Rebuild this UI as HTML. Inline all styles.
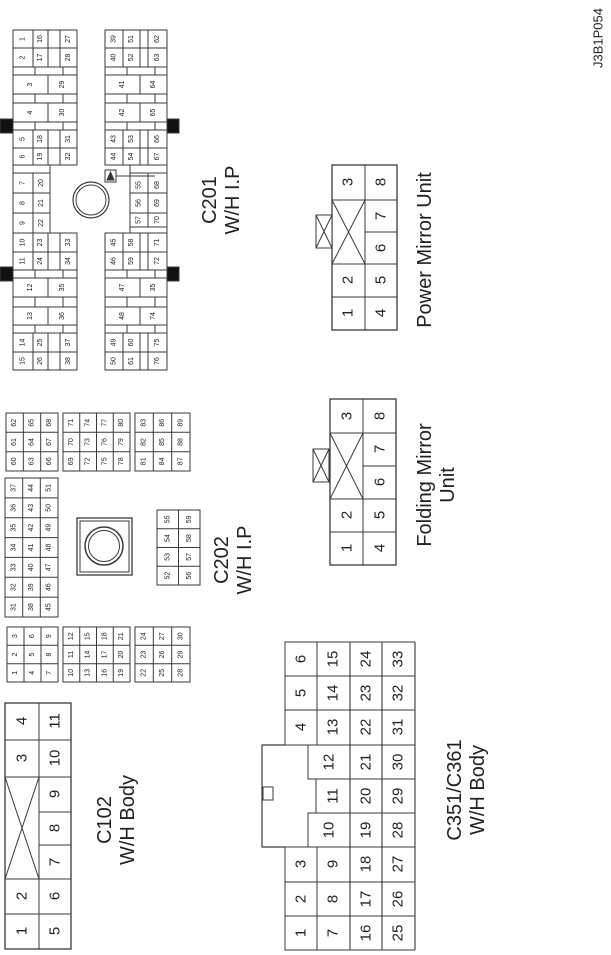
<!DOCTYPE html>
<html><head><meta charset="utf-8"><style>
html,body{margin:0;padding:0;background:#fff;}
svg{display:block;}
rect{fill:#fff;stroke:#3a3a3a;stroke-width:1;}
path,line{stroke:#3a3a3a;stroke-width:1;fill:none;}
text{font-family:"Liberation Sans",Arial,sans-serif;text-anchor:middle;dominant-baseline:central;fill:#222;}
.s text{font-size:7px;}
.m text{font-size:15px;}
.l{font-size:20px;}
</style></head><body>
<svg width="611" height="955" viewBox="0 0 611 955" xmlns="http://www.w3.org/2000/svg">

<!-- ID -->
<text class="l" style="font-size:13px" transform="translate(598,38)rotate(-90)">J3B1P054</text>

<!-- ===== C201 ===== -->
<g class="s">
<rect x="0" y="119" width="13" height="14" style="fill:#111"/>
<rect x="167" y="119" width="12" height="14" style="fill:#111"/>
<rect x="0" y="267" width="13" height="14" style="fill:#111"/>
<rect x="167" y="267" width="12" height="14" style="fill:#111"/>
<!-- left top -->
<rect x="13" y="30" width="20" height="18"/><rect x="33" y="30" width="15" height="18"/><rect x="48" y="30" width="12" height="18"/><rect x="60" y="30" width="17" height="18"/>
<rect x="13" y="48" width="20" height="19"/><rect x="33" y="48" width="15" height="19"/><rect x="48" y="48" width="12" height="19"/><rect x="60" y="48" width="17" height="19"/>
<rect x="13" y="67" width="22" height="8"/><rect x="35" y="67" width="28" height="8"/><rect x="63" y="67" width="14" height="8"/>
<rect x="13" y="75" width="35" height="19"/><rect x="48" y="75" width="29" height="19"/>
<rect x="13" y="94" width="22" height="9"/><rect x="35" y="94" width="28" height="9"/><rect x="63" y="94" width="14" height="9"/>
<rect x="13" y="103" width="35" height="19"/><rect x="48" y="103" width="29" height="19"/>
<rect x="13" y="122" width="22" height="8"/><rect x="35" y="122" width="28" height="8"/><rect x="63" y="122" width="14" height="8"/>
<rect x="13" y="130" width="20" height="18"/><rect x="33" y="130" width="15" height="18"/><rect x="48" y="130" width="12" height="18"/><rect x="60" y="130" width="17" height="18"/>
<rect x="13" y="148" width="20" height="17"/><rect x="33" y="148" width="15" height="17"/><rect x="48" y="148" width="12" height="17"/><rect x="60" y="148" width="17" height="17"/>
<!-- left middle -->
<rect x="13" y="165" width="37" height="8"/>
<rect x="13" y="173" width="20" height="20"/><rect x="33" y="173" width="17" height="20"/>
<rect x="13" y="193" width="20" height="20"/><rect x="33" y="193" width="17" height="20"/>
<rect x="13" y="213" width="20" height="20"/><rect x="33" y="213" width="17" height="20"/>
<!-- left bottom -->
<rect x="13" y="233" width="20" height="19"/><rect x="33" y="233" width="15" height="19"/><rect x="48" y="233" width="12" height="19"/><rect x="60" y="233" width="17" height="19"/>
<rect x="13" y="252" width="20" height="18"/><rect x="33" y="252" width="15" height="18"/><rect x="48" y="252" width="12" height="18"/><rect x="60" y="252" width="17" height="18"/>
<rect x="13" y="270" width="22" height="8"/><rect x="35" y="270" width="28" height="8"/><rect x="63" y="270" width="14" height="8"/>
<rect x="13" y="278" width="35" height="19"/><rect x="48" y="278" width="29" height="19"/>
<rect x="13" y="297" width="22" height="10"/><rect x="35" y="297" width="28" height="10"/><rect x="63" y="297" width="14" height="10"/>
<rect x="13" y="307" width="35" height="18"/><rect x="48" y="307" width="29" height="18"/>
<rect x="13" y="325" width="22" height="8"/><rect x="35" y="325" width="28" height="8"/><rect x="63" y="325" width="14" height="8"/>
<rect x="13" y="333" width="20" height="19"/><rect x="33" y="333" width="15" height="19"/><rect x="48" y="333" width="12" height="19"/><rect x="60" y="333" width="17" height="19"/>
<rect x="13" y="352" width="20" height="18"/><rect x="33" y="352" width="15" height="18"/><rect x="48" y="352" width="12" height="18"/><rect x="60" y="352" width="17" height="18"/>
<!-- right top -->
<rect x="105" y="30" width="18" height="18"/><rect x="123" y="30" width="17" height="18"/><rect x="140" y="30" width="8" height="18"/><rect x="148" y="30" width="19" height="18"/>
<rect x="105" y="48" width="18" height="19"/><rect x="123" y="48" width="17" height="19"/><rect x="140" y="48" width="8" height="19"/><rect x="148" y="48" width="19" height="19"/>
<rect x="105" y="67" width="22" height="8"/><rect x="127" y="67" width="28" height="8"/><rect x="155" y="67" width="12" height="8"/>
<rect x="105" y="75" width="35" height="19"/><rect x="140" y="75" width="27" height="19"/>
<rect x="105" y="94" width="22" height="9"/><rect x="127" y="94" width="28" height="9"/><rect x="155" y="94" width="12" height="9"/>
<rect x="105" y="103" width="35" height="19"/><rect x="140" y="103" width="27" height="19"/>
<rect x="105" y="122" width="22" height="8"/><rect x="127" y="122" width="28" height="8"/><rect x="155" y="122" width="12" height="8"/>
<rect x="105" y="130" width="18" height="18"/><rect x="123" y="130" width="17" height="18"/><rect x="140" y="130" width="8" height="18"/><rect x="148" y="130" width="19" height="18"/>
<rect x="105" y="148" width="18" height="17"/><rect x="123" y="148" width="17" height="17"/><rect x="140" y="148" width="8" height="17"/><rect x="148" y="148" width="19" height="17"/>
<!-- right middle -->
<rect x="130" y="165" width="37" height="8"/>
<rect x="130" y="173" width="18" height="20"/><rect x="148" y="173" width="19" height="20"/>
<rect x="130" y="193" width="18" height="20"/><rect x="148" y="193" width="19" height="20"/>
<rect x="130" y="213" width="18" height="14"/><rect x="148" y="213" width="19" height="14"/>
<rect x="130" y="227" width="37" height="6"/>
<!-- right bottom -->
<rect x="105" y="233" width="18" height="19"/><rect x="123" y="233" width="17" height="19"/><rect x="140" y="233" width="8" height="19"/><rect x="148" y="233" width="19" height="19"/>
<rect x="105" y="252" width="18" height="18"/><rect x="123" y="252" width="17" height="18"/><rect x="140" y="252" width="8" height="18"/><rect x="148" y="252" width="19" height="18"/>
<rect x="105" y="270" width="22" height="8"/><rect x="127" y="270" width="28" height="8"/><rect x="155" y="270" width="12" height="8"/>
<rect x="105" y="278" width="35" height="19"/><rect x="140" y="278" width="27" height="19"/>
<rect x="105" y="297" width="22" height="10"/><rect x="127" y="297" width="28" height="10"/><rect x="155" y="297" width="12" height="10"/>
<rect x="105" y="307" width="35" height="18"/><rect x="140" y="307" width="27" height="18"/>
<rect x="105" y="325" width="22" height="8"/><rect x="127" y="325" width="28" height="8"/><rect x="155" y="325" width="12" height="8"/>
<rect x="105" y="333" width="18" height="19"/><rect x="123" y="333" width="17" height="19"/><rect x="140" y="333" width="8" height="19"/><rect x="148" y="333" width="19" height="19"/>
<rect x="105" y="352" width="18" height="18"/><rect x="123" y="352" width="17" height="18"/><rect x="140" y="352" width="8" height="18"/><rect x="148" y="352" width="19" height="18"/>
<!-- circle + triangle -->
<circle cx="91" cy="200" r="18" style="fill:none;stroke:#3a3a3a;stroke-width:1.2"/>
<circle cx="91" cy="200" r="15" style="fill:none;stroke:#3a3a3a;stroke-width:1"/>
<rect x="105" y="170" width="11" height="12"/>
<path d="M107 180L110.5 172L114 180Z" style="fill:#333"/>
<line x1="116" y1="176" x2="155" y2="176"/>
<!-- texts -->
<text transform="translate(23,39)rotate(-90)">1</text><text transform="translate(40.5,39)rotate(-90)">16</text><text transform="translate(68.5,39)rotate(-90)">27</text>
<text transform="translate(23,57.5)rotate(-90)">2</text><text transform="translate(40.5,57.5)rotate(-90)">17</text><text transform="translate(68.5,57.5)rotate(-90)">28</text>
<text transform="translate(30.5,84.5)rotate(-90)">3</text><text transform="translate(62.5,84.5)rotate(-90)">29</text>
<text transform="translate(30.5,112.5)rotate(-90)">4</text><text transform="translate(62.5,112.5)rotate(-90)">30</text>
<text transform="translate(23,139)rotate(-90)">5</text><text transform="translate(40.5,139)rotate(-90)">18</text><text transform="translate(68.5,139)rotate(-90)">31</text>
<text transform="translate(23,156.5)rotate(-90)">6</text><text transform="translate(40.5,156.5)rotate(-90)">19</text><text transform="translate(68.5,156.5)rotate(-90)">32</text>
<text transform="translate(23,183)rotate(-90)">7</text><text transform="translate(41.5,183)rotate(-90)">20</text>
<text transform="translate(23,203)rotate(-90)">8</text><text transform="translate(41.5,203)rotate(-90)">21</text>
<text transform="translate(23,223)rotate(-90)">9</text><text transform="translate(41.5,223)rotate(-90)">22</text>
<text transform="translate(23,242.5)rotate(-90)">10</text><text transform="translate(40.5,242.5)rotate(-90)">23</text><text transform="translate(68.5,242.5)rotate(-90)">33</text>
<text transform="translate(23,261)rotate(-90)">11</text><text transform="translate(40.5,261)rotate(-90)">24</text><text transform="translate(68.5,261)rotate(-90)">34</text>
<text transform="translate(30.5,287.5)rotate(-90)">12</text><text transform="translate(62.5,287.5)rotate(-90)">35</text>
<text transform="translate(30.5,316)rotate(-90)">13</text><text transform="translate(62.5,316)rotate(-90)">36</text>
<text transform="translate(23,342.5)rotate(-90)">14</text><text transform="translate(40.5,342.5)rotate(-90)">25</text><text transform="translate(68.5,342.5)rotate(-90)">37</text>
<text transform="translate(23,361)rotate(-90)">15</text><text transform="translate(40.5,361)rotate(-90)">26</text><text transform="translate(68.5,361)rotate(-90)">38</text>
<text transform="translate(114,39)rotate(-90)">39</text><text transform="translate(131.5,39)rotate(-90)">51</text><text transform="translate(157.5,39)rotate(-90)">62</text>
<text transform="translate(114,57.5)rotate(-90)">40</text><text transform="translate(131.5,57.5)rotate(-90)">52</text><text transform="translate(157.5,57.5)rotate(-90)">63</text>
<text transform="translate(122.5,84.5)rotate(-90)">41</text><text transform="translate(153.5,84.5)rotate(-90)">64</text>
<text transform="translate(122.5,112.5)rotate(-90)">42</text><text transform="translate(153.5,112.5)rotate(-90)">65</text>
<text transform="translate(114,139)rotate(-90)">43</text><text transform="translate(131.5,139)rotate(-90)">53</text><text transform="translate(157.5,139)rotate(-90)">66</text>
<text transform="translate(114,156.5)rotate(-90)">44</text><text transform="translate(131.5,156.5)rotate(-90)">54</text><text transform="translate(157.5,156.5)rotate(-90)">67</text>
<text transform="translate(139,185)rotate(-90)">55</text><text transform="translate(157.5,185)rotate(-90)">68</text>
<text transform="translate(139,203)rotate(-90)">56</text><text transform="translate(157.5,203)rotate(-90)">69</text>
<text transform="translate(139,220)rotate(-90)">57</text><text transform="translate(157.5,220)rotate(-90)">70</text>
<text transform="translate(114,242.5)rotate(-90)">45</text><text transform="translate(131.5,242.5)rotate(-90)">58</text><text transform="translate(157.5,242.5)rotate(-90)">71</text>
<text transform="translate(114,261)rotate(-90)">46</text><text transform="translate(131.5,261)rotate(-90)">59</text><text transform="translate(157.5,261)rotate(-90)">72</text>
<text transform="translate(122.5,287.5)rotate(-90)">47</text><text transform="translate(153.5,287.5)rotate(-90)">35</text>
<text transform="translate(122.5,316)rotate(-90)">48</text><text transform="translate(153.5,316)rotate(-90)">74</text>
<text transform="translate(114,342.5)rotate(-90)">49</text><text transform="translate(131.5,342.5)rotate(-90)">60</text><text transform="translate(157.5,342.5)rotate(-90)">75</text>
<text transform="translate(114,361)rotate(-90)">50</text><text transform="translate(131.5,361)rotate(-90)">61</text><text transform="translate(157.5,361)rotate(-90)">76</text>
</g>
<text class="l" transform="translate(210,200)rotate(-90)">C201</text>
<text class="l" transform="translate(233,200)rotate(-90)">W/H I.P</text>

<!-- ===== C202 ===== -->
<g class="s">
<rect x="6" y="413" width="52" height="58"/><path d="M23.3 413V471M40.7 413V471M6 432.3H58M6 451.7H58"/>
<rect x="63" y="413" width="67" height="58"/><path d="M79.75 413V471M96.5 413V471M113.25 413V471M63 432.3H130M63 451.7H130"/>
<rect x="135" y="413" width="55" height="58"/><path d="M153.3 413V471M171.7 413V471M135 432.3H190M135 451.7H190"/>
<rect x="5" y="478" width="53" height="139"/><path d="M22.7 478V617M40.3 478V617M5 497.9H58M5 517.7H58M5 537.6H58M5 557.4H58M5 577.3H58M5 597.1H58"/>
<rect x="7" y="627" width="51" height="55"/><path d="M24 627V682M41 627V682M7 645.3H58M7 663.7H58"/>
<rect x="63" y="627" width="67" height="55"/><path d="M79.75 627V682M96.5 627V682M113.25 627V682M63 645.3H130M63 663.7H130"/>
<rect x="135" y="627" width="55" height="55"/><path d="M153.3 627V682M171.7 627V682M135 645.3H190M135 663.7H190"/>
<rect x="157" y="510" width="43" height="75"/><path d="M178.5 510V585M157 528.75H200M157 547.5H200M157 566.25H200"/>
<rect x="77" y="518" width="55" height="57" style="stroke-width:1.3"/><rect x="80" y="521" width="49" height="51"/>
<circle cx="104" cy="546" r="19" style="fill:none;stroke:#3a3a3a;stroke-width:1.5"/>
<circle cx="104" cy="546" r="15.5" style="fill:none;stroke:#3a3a3a;stroke-width:1"/>
<!-- block A -->
<text transform="translate(14.7,422.7)rotate(-90)">62</text><text transform="translate(14.7,442)rotate(-90)">61</text><text transform="translate(14.7,461.3)rotate(-90)">60</text>
<text transform="translate(32,422.7)rotate(-90)">65</text><text transform="translate(32,442)rotate(-90)">64</text><text transform="translate(32,461.3)rotate(-90)">63</text>
<text transform="translate(49.3,422.7)rotate(-90)">68</text><text transform="translate(49.3,442)rotate(-90)">67</text><text transform="translate(49.3,461.3)rotate(-90)">66</text>
<!-- block B -->
<text transform="translate(71.4,422.7)rotate(-90)">71</text><text transform="translate(71.4,442)rotate(-90)">70</text><text transform="translate(71.4,461.3)rotate(-90)">69</text>
<text transform="translate(88.1,422.7)rotate(-90)">74</text><text transform="translate(88.1,442)rotate(-90)">73</text><text transform="translate(88.1,461.3)rotate(-90)">72</text>
<text transform="translate(104.9,422.7)rotate(-90)">77</text><text transform="translate(104.9,442)rotate(-90)">76</text><text transform="translate(104.9,461.3)rotate(-90)">75</text>
<text transform="translate(121.6,422.7)rotate(-90)">80</text><text transform="translate(121.6,442)rotate(-90)">79</text><text transform="translate(121.6,461.3)rotate(-90)">78</text>
<!-- block C -->
<text transform="translate(144.2,422.7)rotate(-90)">83</text><text transform="translate(144.2,442)rotate(-90)">82</text><text transform="translate(144.2,461.3)rotate(-90)">81</text>
<text transform="translate(162.5,422.7)rotate(-90)">86</text><text transform="translate(162.5,442)rotate(-90)">85</text><text transform="translate(162.5,461.3)rotate(-90)">84</text>
<text transform="translate(180.8,422.7)rotate(-90)">89</text><text transform="translate(180.8,442)rotate(-90)">88</text><text transform="translate(180.8,461.3)rotate(-90)">87</text>
<!-- 31-51 -->
<text transform="translate(13.8,487.9)rotate(-90)">37</text><text transform="translate(13.8,507.8)rotate(-90)">36</text><text transform="translate(13.8,527.6)rotate(-90)">35</text><text transform="translate(13.8,547.5)rotate(-90)">34</text><text transform="translate(13.8,567.4)rotate(-90)">33</text><text transform="translate(13.8,587.2)rotate(-90)">32</text><text transform="translate(13.8,607.1)rotate(-90)">31</text>
<text transform="translate(31.5,487.9)rotate(-90)">44</text><text transform="translate(31.5,507.8)rotate(-90)">43</text><text transform="translate(31.5,527.6)rotate(-90)">42</text><text transform="translate(31.5,547.5)rotate(-90)">41</text><text transform="translate(31.5,567.4)rotate(-90)">40</text><text transform="translate(31.5,587.2)rotate(-90)">39</text><text transform="translate(31.5,607.1)rotate(-90)">38</text>
<text transform="translate(49.2,487.9)rotate(-90)">51</text><text transform="translate(49.2,507.8)rotate(-90)">50</text><text transform="translate(49.2,527.6)rotate(-90)">49</text><text transform="translate(49.2,547.5)rotate(-90)">48</text><text transform="translate(49.2,567.4)rotate(-90)">47</text><text transform="translate(49.2,587.2)rotate(-90)">46</text><text transform="translate(49.2,607.1)rotate(-90)">45</text>
<!-- 52-59 -->
<text transform="translate(167.75,519.4)rotate(-90)">55</text><text transform="translate(167.75,538.1)rotate(-90)">54</text><text transform="translate(167.75,556.9)rotate(-90)">53</text><text transform="translate(167.75,575.6)rotate(-90)">52</text>
<text transform="translate(189.25,519.4)rotate(-90)">59</text><text transform="translate(189.25,538.1)rotate(-90)">58</text><text transform="translate(189.25,556.9)rotate(-90)">57</text><text transform="translate(189.25,575.6)rotate(-90)">56</text>
<!-- bottom blocks -->
<text transform="translate(15.5,636.2)rotate(-90)">3</text><text transform="translate(15.5,654.5)rotate(-90)">2</text><text transform="translate(15.5,672.8)rotate(-90)">1</text>
<text transform="translate(32.5,636.2)rotate(-90)">6</text><text transform="translate(32.5,654.5)rotate(-90)">5</text><text transform="translate(32.5,672.8)rotate(-90)">4</text>
<text transform="translate(49.5,636.2)rotate(-90)">9</text><text transform="translate(49.5,654.5)rotate(-90)">8</text><text transform="translate(49.5,672.8)rotate(-90)">7</text>
<text transform="translate(71.4,636.2)rotate(-90)">12</text><text transform="translate(71.4,654.5)rotate(-90)">11</text><text transform="translate(71.4,672.8)rotate(-90)">10</text>
<text transform="translate(88.1,636.2)rotate(-90)">15</text><text transform="translate(88.1,654.5)rotate(-90)">14</text><text transform="translate(88.1,672.8)rotate(-90)">13</text>
<text transform="translate(104.9,636.2)rotate(-90)">18</text><text transform="translate(104.9,654.5)rotate(-90)">17</text><text transform="translate(104.9,672.8)rotate(-90)">16</text>
<text transform="translate(121.6,636.2)rotate(-90)">21</text><text transform="translate(121.6,654.5)rotate(-90)">20</text><text transform="translate(121.6,672.8)rotate(-90)">19</text>
<text transform="translate(144.2,636.2)rotate(-90)">24</text><text transform="translate(144.2,654.5)rotate(-90)">23</text><text transform="translate(144.2,672.8)rotate(-90)">22</text>
<text transform="translate(162.5,636.2)rotate(-90)">27</text><text transform="translate(162.5,654.5)rotate(-90)">26</text><text transform="translate(162.5,672.8)rotate(-90)">25</text>
<text transform="translate(180.8,636.2)rotate(-90)">30</text><text transform="translate(180.8,654.5)rotate(-90)">29</text><text transform="translate(180.8,672.8)rotate(-90)">28</text>
</g>
<text class="l" transform="translate(222,560)rotate(-90)">C202</text>
<text class="l" transform="translate(245,560)rotate(-90)">W/H I.P</text>

<!-- ===== Power Mirror Unit ===== -->
<g class="m">
<rect x="332" y="165" width="65" height="165" style="stroke-width:1.3"/>
<path d="M365 165V330M332 200H397M332 264H397M332 297H397M365 232H397M332 200L365 264M332 264L365 200"/>
<rect x="316" y="215" width="16" height="33"/><path d="M316 215L332 248M316 248L332 215"/>
<text transform="translate(348,313)rotate(-90)">1</text><text transform="translate(348,280)rotate(-90)">2</text><text transform="translate(348,182)rotate(-90)">3</text>
<text transform="translate(381,313)rotate(-90)">4</text><text transform="translate(381,280)rotate(-90)">5</text><text transform="translate(381,248)rotate(-90)">6</text><text transform="translate(381,216)rotate(-90)">7</text><text transform="translate(381,182)rotate(-90)">8</text>
</g>
<text class="l" transform="translate(425,250)rotate(-90)">Power Mirror Unit</text>

<!-- ===== Folding Mirror Unit ===== -->
<g class="m">
<rect x="330" y="399" width="66" height="166" style="stroke-width:1.3"/>
<path d="M363 399V565M330 433H396M330 499H396M330 532H396M363 466H396M330 433L363 499M330 499L363 433"/>
<rect x="313" y="449" width="16" height="33"/><path d="M313 449L329 482M313 482L329 449"/>
<text transform="translate(347,548)rotate(-90)">1</text><text transform="translate(347,515)rotate(-90)">2</text><text transform="translate(347,416)rotate(-90)">3</text>
<text transform="translate(380,548)rotate(-90)">4</text><text transform="translate(380,515)rotate(-90)">5</text><text transform="translate(380,482)rotate(-90)">6</text><text transform="translate(380,449)rotate(-90)">7</text><text transform="translate(380,416)rotate(-90)">8</text>
</g>
<text class="l" transform="translate(425,485)rotate(-90)">Folding Mirror</text>
<text class="l" transform="translate(448,485)rotate(-90)">Unit</text>

<!-- ===== C102 ===== -->
<g class="m">
<rect x="5" y="703" width="66" height="246" style="stroke-width:1.3"/>
<path d="M39 703V949M5 740H71M5 777H71M5 879H71M5 914H71M39 812H71M39 845H71M5 777L39 879M5 879L39 777"/>
<text transform="translate(22,931)rotate(-90)">1</text><text transform="translate(22,896)rotate(-90)">2</text><text transform="translate(22,758)rotate(-90)">3</text><text transform="translate(22,721)rotate(-90)">4</text>
<text transform="translate(55,931)rotate(-90)">5</text><text transform="translate(55,896)rotate(-90)">6</text><text transform="translate(55,862)rotate(-90)">7</text><text transform="translate(55,828)rotate(-90)">8</text><text transform="translate(55,794)rotate(-90)">9</text><text transform="translate(55,758)rotate(-90)">10</text><text transform="translate(55,721)rotate(-90)">11</text>
</g>
<text class="l" transform="translate(105,820)rotate(-90)">C102</text>
<text class="l" transform="translate(128,820)rotate(-90)">W/H Body</text>

<!-- ===== C351/C361 ===== -->
<g class="m">
<path d="M285 745H262V847H285" style="stroke-width:1.2"/>
<rect x="263" y="787" width="10" height="13"/>
<rect x="285" y="642" width="32" height="34"/><rect x="285" y="676" width="32" height="34"/><rect x="285" y="710" width="32" height="35"/>
<rect x="285" y="847" width="32" height="35"/><rect x="285" y="882" width="32" height="34"/><rect x="285" y="916" width="32" height="34"/>
<rect x="317" y="642" width="33" height="34"/><rect x="317" y="676" width="33" height="34"/><rect x="317" y="710" width="33" height="35"/>
<rect x="308" y="745" width="42" height="34"/><rect x="316" y="779" width="34" height="34"/><rect x="308" y="813" width="42" height="34"/>
<rect x="317" y="847" width="33" height="35"/><rect x="317" y="882" width="33" height="34"/><rect x="317" y="916" width="33" height="34"/>
<path d="M350 642V950M382 642V950M415 642V950M350 642H415M350 950H415M350 676H415M350 710H415M350 745H415M350 779H415M350 813H415M350 847H415M350 882H415M350 916H415" style="stroke-width:1.1"/>
<text transform="translate(301,659)rotate(-90)">6</text><text transform="translate(301,693)rotate(-90)">5</text><text transform="translate(301,727)rotate(-90)">4</text>
<text transform="translate(301,864)rotate(-90)">3</text><text transform="translate(301,899)rotate(-90)">2</text><text transform="translate(301,933)rotate(-90)">1</text>
<text transform="translate(333,659)rotate(-90)">15</text><text transform="translate(333,693)rotate(-90)">14</text><text transform="translate(333,727)rotate(-90)">13</text>
<text transform="translate(329,762)rotate(-90)">12</text><text transform="translate(333,796)rotate(-90)">11</text><text transform="translate(329,830)rotate(-90)">10</text>
<text transform="translate(333,864)rotate(-90)">9</text><text transform="translate(333,899)rotate(-90)">8</text><text transform="translate(333,933)rotate(-90)">7</text>
<text transform="translate(366,659)rotate(-90)">24</text><text transform="translate(366,693)rotate(-90)">23</text><text transform="translate(366,727)rotate(-90)">22</text><text transform="translate(366,762)rotate(-90)">21</text><text transform="translate(366,796)rotate(-90)">20</text><text transform="translate(366,830)rotate(-90)">19</text><text transform="translate(366,864)rotate(-90)">18</text><text transform="translate(366,899)rotate(-90)">17</text><text transform="translate(366,933)rotate(-90)">16</text>
<text transform="translate(398,659)rotate(-90)">33</text><text transform="translate(398,693)rotate(-90)">32</text><text transform="translate(398,727)rotate(-90)">31</text><text transform="translate(398,762)rotate(-90)">30</text><text transform="translate(398,796)rotate(-90)">29</text><text transform="translate(398,830)rotate(-90)">28</text><text transform="translate(398,864)rotate(-90)">27</text><text transform="translate(398,899)rotate(-90)">26</text><text transform="translate(398,933)rotate(-90)">25</text>
</g>
<text class="l" transform="translate(455,790)rotate(-90)">C351/C361</text>
<text class="l" transform="translate(478,790)rotate(-90)">W/H Body</text>
</svg>
</body></html>
